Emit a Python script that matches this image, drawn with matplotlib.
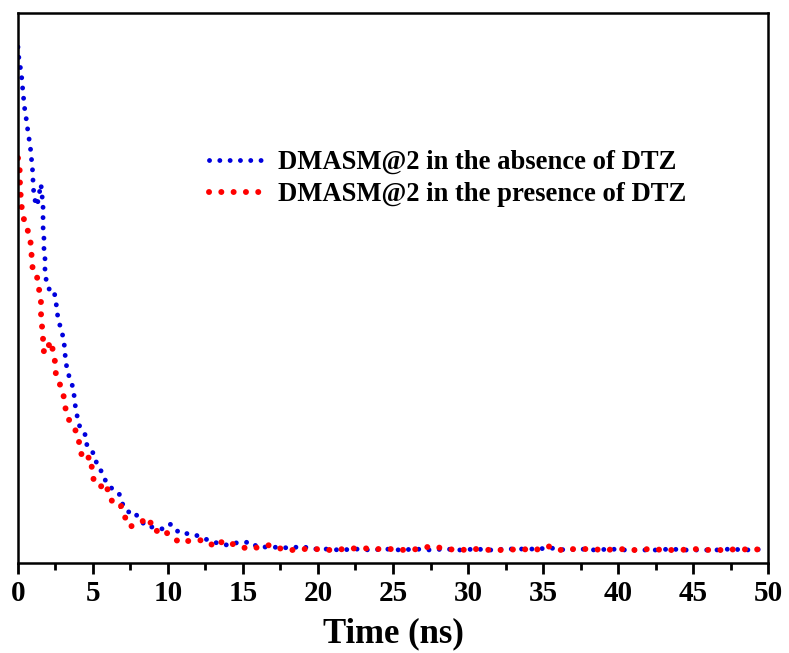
import matplotlib.pyplot as plt
from matplotlib.ticker import MultipleLocator

# Fluorescence decay of DMASM@2, time in ns, intensity in counts
t_abs = [0, 0.07, 0.2, 0.27, 0.33, 0.4, 0.47, 0.6, 0.67, 0.8,
         0.87, 0.93, 1.0, 1.0, 1.13, 1.27, 1.53, 1.67, 1.67, 1.67,
         1.73, 1.73, 1.8, 1.8, 1.87, 2.07, 2.27, 2.4, 2.53, 2.6,
         2.73, 2.93, 3.07, 3.13, 3.2, 3.33, 3.6, 3.73, 3.8, 3.93,
         4.07, 4.53, 4.6, 5.13, 5.27, 5.6, 5.87, 6.13, 6.73, 6.93,
         7.33, 7.73, 8.07, 8.6, 9.0, 9.67, 10.07, 10.33, 10.73, 11.67,
         13.0, 13.93, 14.4, 15.6, 15.93, 16.8, 18.27, 18.93,
         19.5, 20.5, 21.5, 22.5, 23.5, 24.5, 25.5, 26.5, 27.5, 28.5,
         29.5, 30.5, 31.5, 32.5, 33.5, 34.5, 35.5, 36.5, 37.5, 38.5,
         39.5, 40.5, 41.5, 42.5, 43.5, 44.5, 45.5, 46.5, 47.5, 48.5, 50.0]
i_abs = [5160, 5030, 4920, 4820, 4710, 4610, 4510, 4400, 4300, 4190,
         4090, 3990, 3880, 3770, 3630, 3570, 3790, 3570, 3460, 3360,
         3260, 3150, 3050, 2940, 2840, 2740, 2750, 2720, 2620, 2510,
         2410, 2310, 2210, 2100, 2000, 1900, 1790, 1690, 1590, 1480,
         1380, 1270, 1170, 1080, 970, 910, 810, 760, 700, 600,
         510, 520, 440, 360, 360, 340, 390, 380, 300, 290,
         210, 180, 200, 210, 160, 160, 150, 170,
         140, 140, 130, 140, 130, 140, 130, 140, 130, 140,
         130, 140, 130, 140, 140, 140, 150, 130, 140, 130,
         140, 130, 130, 130, 140, 130, 130, 130, 140, 130, 140]

t_pres = [0, 0.07, 0.13, 0.13, 0.2, 0.27, 0.47, 0.8, 0.87, 0.93,
          1.0, 1.27, 1.4, 1.53, 1.53, 1.6, 1.67, 1.73, 1.93, 2.13,
          2.33, 2.47, 2.53, 2.73, 3.0, 3.13, 3.27, 3.6, 4.0, 4.13,
          4.33, 4.6, 4.87, 4.93, 5.07, 5.47, 5.87, 6.07, 6.47, 6.87,
          7.13, 7.47, 7.8, 8.33, 8.87, 8.8, 9.2, 9.53, 9.93, 10.33,
          10.87, 11.33, 12.0, 12.6, 13.13, 13.67, 14.0, 14.6, 15.33, 16.13,
          16.8, 17.6, 18.27,
          18.9, 19.8, 20.8, 21.8, 22.8, 23.8, 24.8, 25.8, 26.7, 27.6,
          28.5, 29.5, 30.5, 31.5, 32.5, 33.5, 34.5, 35.3, 36.1, 37.1,
          38.1, 39.1, 40.1, 41.1, 42.1, 43.1, 44.1, 45.1, 46.1, 47.1,
          48.1, 49.1, 50.0]
i_pres = [4050, 4010, 3890, 3770, 3640, 3520, 3390, 3270, 3150, 3030,
          2900, 2860, 2740, 2620, 2500, 2370, 2240, 2110, 2100, 2220,
          2130, 2010, 1880, 1810, 1710, 1580, 1460, 1390, 1280, 1150,
          1030, 1050, 1060, 930, 810, 760, 800, 670, 570, 570,
          460, 360, 390, 420, 440, 360, 330, 280, 300, 250,
          200, 220, 230, 220, 160, 220, 200, 180, 140, 160,
          180, 140, 130,
          140, 140, 130, 140, 150, 140, 140, 130, 140, 170,
          140, 130, 140, 130, 130, 140, 130, 170, 130, 140,
          140, 130, 140, 130, 140, 130, 130, 140, 130, 130,
          140, 130, 160]

labels = ["DMASM@2 in the absence of DTZ", "DMASM@2 in the presence of DTZ"]

plt.rcParams['font.family'] = ['Liberation Serif', 'DejaVu Serif']
plt.rcParams['font.weight'] = 'bold'

fig = plt.figure(figsize=(7.89, 6.53), dpi=100)
ax = fig.add_axes([0.0228, 0.1378, 0.9506, 0.8422])

# round dots along the path
ax.plot(t_abs, i_abs, color='#0000dd', lw=3.5, linestyle=(0, (0.01, 2.11)),
        dash_capstyle='round', label=labels[0])
ax.plot(t_pres, i_pres, color='#ff0000', lw=4.3, linestyle=(0, (0.01, 2.05)),
        dash_capstyle='round', label=labels[1])

ax.set_xlim(0, 50)
ax.set_ylim(0, 5500)
ax.xaxis.set_major_locator(MultipleLocator(5))
ax.xaxis.set_minor_locator(MultipleLocator(2.5))
ax.set_yticks([])
ax.tick_params(axis='x', which='major', direction='out', length=8, width=2,
               labelsize=21, pad=4)
ax.tick_params(axis='x', which='minor', direction='out', length=5, width=2)
for s in ax.spines.values():
    s.set_linewidth(1.8)

ax.set_xlabel("Time (ns)", fontsize=25, fontweight='bold', labelpad=8)

ax.legend(loc='upper left', bbox_to_anchor=(0.241, 0.77), frameon=False,
          fontsize=19.2, handlelength=2.2, handletextpad=0.38,
          labelspacing=0.27, borderaxespad=0)

plt.savefig("out.png", dpi=100)
